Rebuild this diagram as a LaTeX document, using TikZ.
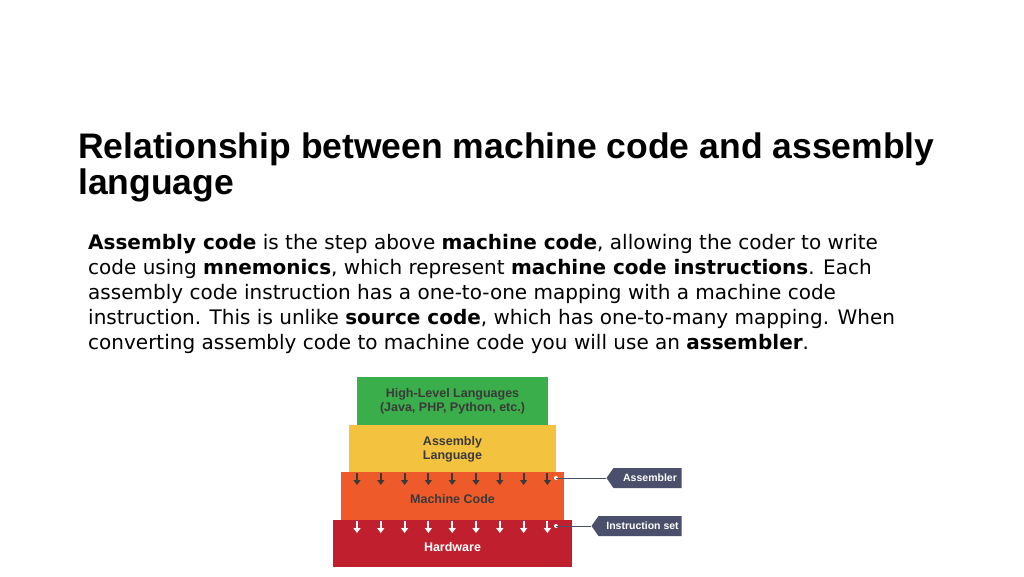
\documentclass[tikz,border=0pt]{standalone}
\usepackage{fontspec}
\setmainfont{Liberation Sans}
\newfontfamily\bodyfont{DejaVu Sans}
\usetikzlibrary{shapes.symbols,arrows.meta}
\definecolor{gr}{HTML}{3AAE4A}
\definecolor{ye}{HTML}{F3C23E}
\definecolor{orr}{HTML}{EE5A2A}
\definecolor{rd}{HTML}{C0202E}
\definecolor{tag}{HTML}{4A4F6B}
\definecolor{tx}{HTML}{3A3A3A}
\begin{document}
\begin{tikzpicture}[x=1pt,y=-1pt,
  lbl/.style={font=\fontsize{12.5}{14}\selectfont\bfseries,text=tx,align=center},
  tagbox/.style={fill=tag,text=white,font=\fontsize{10.5}{13}\selectfont\bfseries,inner sep=0pt,minimum height=20pt,signal,signal to=west,signal pointer angle=110,text depth=0pt},
  body/.style={anchor=base west,font=\bodyfont\fontsize{20}{24}\selectfont,inner sep=0pt}]
\useasboundingbox (0,0) rectangle (1024,576);
\node[anchor=base west,inner sep=0pt,font=\fontsize{35.5}{40}\selectfont\bfseries] (title) at (78,158) {Relationship between machine code and assembly};
\node[anchor=base west,inner sep=0pt,font=\fontsize{35.5}{40}\selectfont\bfseries] (title2) at (78,194) {language};
\node[body] (l1) at (88,249) {\textbf{Assembly code} is the step above \textbf{machine code}, allowing the coder to write};
\node[body] (l2) at (88,274) {code using \textbf{mnemonics}, which represent \textbf{machine code instructions}. Each};
\node[body] (l3) at (88,299) {assembly code instruction has a one-to-one mapping with a machine code};
\node[body] (l4) at (88,324) {instruction. This is unlike \textbf{source code}, which has one-to-many mapping. When};
\node[body] (l5) at (88,349) {converting assembly code to machine code you will use an \textbf{assembler}.};
\fill[gr] (357,377) rectangle (548,425);
\fill[ye] (349,425) rectangle (556,472);
\fill[orr] (341,472) rectangle (564,520);
\fill[rd] (333,520) rectangle (572,567);
\node[lbl] (hl) at (452.5,401) {High-Level Languages\\(Java, PHP, Python, etc.)};
\node[lbl] (al) at (452.5,449) {Assembly\\Language};
\node[lbl] (mc) at (452.5,499) {Machine Code};
\node[lbl,text=white] (hw) at (452.5,547) {Hardware};
\foreach \i in {0,...,8}{
  \draw[tx,line width=2pt,-{Triangle[length=5pt,width=7pt]}] (357+23.8*\i,473) -- (357+23.8*\i,485);
  \draw[white,line width=2pt,-{Triangle[length=5pt,width=7pt]}] (357+23.8*\i,521) -- (357+23.8*\i,533);
}
\node[tagbox,minimum width=75pt] (as) at (647.5,478) {\hspace{5pt}Assembler};
\node[tagbox,minimum width=90pt] (is) at (640,526) {\hspace{5pt}Instruction set};
\coordinate (d1) at (556,478);
\coordinate (d2) at (556,526);
\fill[white] (d1) circle (2pt) (d2) circle (2pt);
\draw[tag,line width=0.8pt] (d1) -- (as.west);
\draw[tag,line width=0.8pt] (d2) -- (is.west);
\end{tikzpicture}
\end{document}
